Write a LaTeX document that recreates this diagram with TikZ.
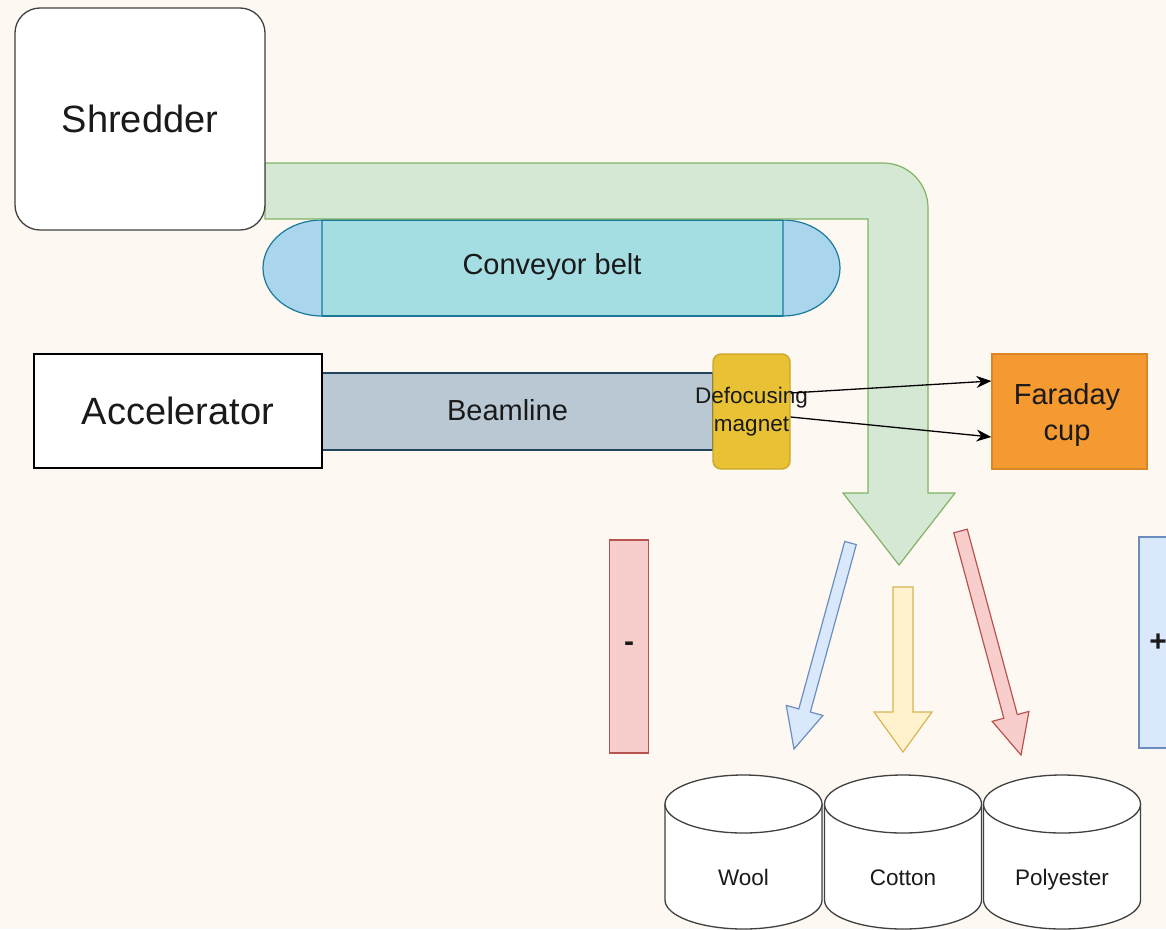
\documentclass[tikz,border=0pt]{standalone}
\usepackage{fontspec}
\setmainfont{Liberation Sans}
\usetikzlibrary{calc,arrows.meta}
\definecolor{bgc}{HTML}{FDF8F2}
\definecolor{grnF}{HTML}{D5E8D4}
\definecolor{grnD}{HTML}{82B366}
\definecolor{convM}{HTML}{A4DEE3}
\definecolor{convC}{HTML}{A9D6EC}
\definecolor{convD}{HTML}{1A7A9A}
\definecolor{beamF}{HTML}{BAC8D3}
\definecolor{beamD}{HTML}{23445D}
\definecolor{magF}{HTML}{E8C234}
\definecolor{magD}{HTML}{C9A52A}
\definecolor{farF}{HTML}{F59A30}
\definecolor{farD}{HTML}{DB8626}
\definecolor{redF}{HTML}{F8CECC}
\definecolor{redD}{HTML}{B85450}
\definecolor{bluF}{HTML}{DAE8FC}
\definecolor{bluD}{HTML}{6C8EBF}
\definecolor{yelF}{HTML}{FFF2CC}
\definecolor{yelD}{HTML}{D6B656}
\definecolor{txt}{HTML}{1A1A1A}
\tikzset{
  box/.style={draw, line width=1.3pt, text=txt, inner sep=0pt},
  bigfont/.style={font=\fontsize{38}{46}\selectfont},
  midfont/.style={font=\fontsize{29}{36}\selectfont},
  smallfont/.style={font=\fontsize{22.5}{28}\selectfont},
  barrow/.style={draw, line width=1.2pt},
  bin/.style={draw=black!75, fill=white, line width=1.3pt},
}
\newcommand\blockarr[6]{%
  \coordinate (#1h) at ($(#2)!#5!(#1)$);
  \path[#6] ($(#1)!#3!90:(#2)$) -- ($(#1h)!#3!90:(#2)$) -- ($(#1h)!#4!90:(#2)$)
     -- (#2) -- ($(#1h)!#4!-90:(#2)$) -- ($(#1h)!#3!-90:(#2)$)
     -- ($(#1)!#3!-90:(#2)$) -- cycle;
}
\newcommand\tank[3]{% #1 name, #2 center x, #3 label
  \path[bin] (#2-78.5,804) -- (#2-78.5,900)
     .. controls (#2-78.5,916) and (#2-43,929) .. (#2,929)
     .. controls (#2+43,929) and (#2+78.5,916) .. (#2+78.5,900)
     -- (#2+78.5,804);
  \draw[bin] (#2,804) ellipse [x radius=78.5pt, y radius=29pt];
  \node[smallfont, text=txt, anchor=base] (#1) at (#2,885) {#3};
}
\begin{document}
\begin{tikzpicture}[x=1pt,y=-1pt]
\fill[bgc] (0,0) rectangle (1166,929);
\useasboundingbox (0,0) rectangle (1166,929);

% conveyor belt
\fill[convM] (322,220) rectangle (783,316);
\filldraw[fill=convC, draw=convD, line width=1.2pt] (322,220)
   .. controls (289.4,220) and (263,241.5) .. (263,268)
   .. controls (263,294.5) and (289.4,316) .. (322,316) -- cycle;
\filldraw[fill=convC, draw=convD, line width=1.2pt] (783,220)
   .. controls (814.5,220) and (840,241.5) .. (840,268)
   .. controls (840,294.5) and (814.5,316) .. (783,316) -- cycle;
\draw[convD, line width=1.2pt] (322,220) -- (783,220) (322,316) -- (783,316);
\node[midfont, text=txt] (conv) at (552,267) {Conveyor belt};

% beamline and accelerator
\node[box, draw=beamD, fill=beamF, minimum width=391pt, minimum height=77pt] (beam) at (517.5,411.5) {};
\node[midfont, text=txt] (beamtxt) at (507.5,410) {Beamline};
\node[box, draw=black, fill=white, minimum width=288pt, minimum height=114pt, bigfont] (acc) at (178,411) {Accelerator};

% green material flow
\filldraw[fill=grnF, draw=grnD, line width=1.2pt] (265,163) -- (883,163)
   .. controls (908,163) and (928,183) .. (928,208)
   -- (928,493) -- (955,493) -- (899,565) -- (843,493) -- (868,493)
   -- (868,219) -- (265,219) -- cycle;

% shredder
\node[box, draw=black!75, fill=white, rounded corners=25pt, minimum width=250pt, minimum height=222pt, bigfont] (shred) at (140,119) {Shredder};

% magnet and faraday cup
\node[box, draw=magD, fill=magF, rounded corners=8pt, minimum width=77pt, minimum height=115pt] (mag) at (751.5,411.5) {};
\node[smallfont, text=txt, align=center] (magtxt) at (751.5,412) {Defocusing\\magnet};
\node[box, draw=farD, fill=farF, minimum width=155pt, minimum height=115pt] (far) at (1069.5,411.5) {};
\node[midfont, text=txt, align=center] (fartxt) at (1067,415) {Faraday\\cup};

\draw[line width=1.3pt, -{Stealth[length=15pt,width=12pt]}] ([yshift=18.5pt]mag.east) -- ([yshift=30.5pt]far.west);
\draw[line width=1.3pt, -{Stealth[length=15pt,width=12pt]}] ([yshift=-5.5pt]mag.east) -- ([yshift=-25.5pt]far.west);

% deflection plates
\node[box, draw=redD, fill=redF, minimum width=39pt, minimum height=213pt, font=\fontsize{30}{36}\selectfont\bfseries] (minus) at (629,646.5) {-};
\node[box, draw=bluD, fill=bluF, minimum width=38pt, minimum height=211pt, font=\fontsize{30}{36}\selectfont\bfseries] (plus) at (1158,642.5) {+};

% sorted streams
\coordinate (bs) at (850.5,543); \coordinate (be) at (794,749);
\coordinate (ys) at (903,587);   \coordinate (ye) at (903,752);
\coordinate (rs) at (960.5,531); \coordinate (re) at (1021,755);
\blockarr{bs}{be}{6pt}{19pt}{40pt}{barrow, draw=bluD, fill=bluF}
\blockarr{ys}{ye}{10pt}{29pt}{40pt}{barrow, draw=yelD, fill=yelF}
\blockarr{rs}{re}{7pt}{19pt}{40pt}{barrow, draw=redD, fill=redF}

% bins
\tank{wool}{743.5}{Wool}
\tank{cotton}{903}{Cotton}
\tank{poly}{1062}{Polyester}
\end{tikzpicture}
\end{document}
